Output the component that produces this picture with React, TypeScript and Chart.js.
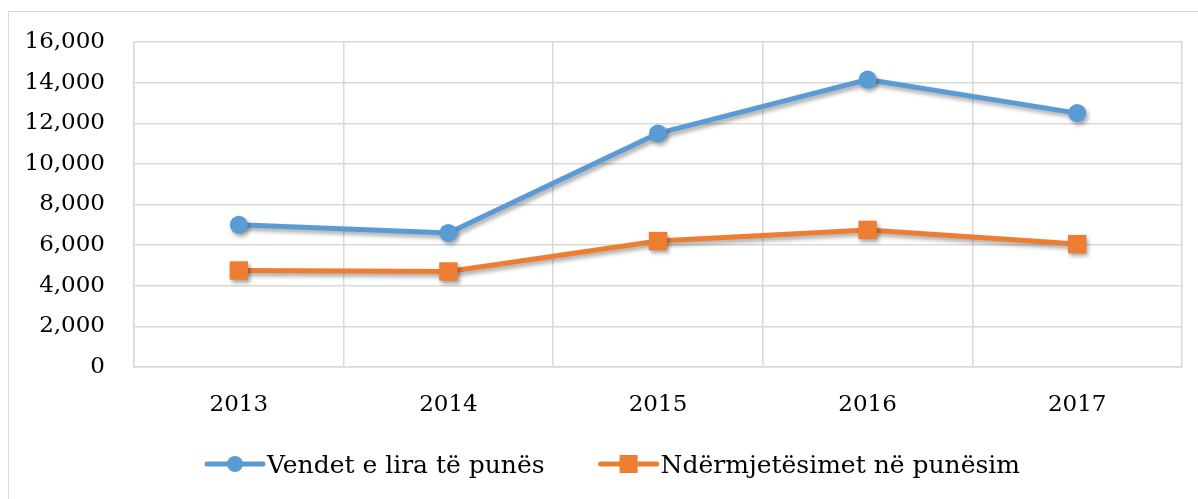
import React, { useEffect, useRef } from "react";
import { Chart, registerables } from "chart.js";

Chart.register(...registerables);

const years = ["2013", "2014", "2015", "2016", "2017"];
const vendetLira = [7000, 6600, 11500, 14150, 12500];
const ndermjetesimet = [4750, 4700, 6200, 6750, 6050];
const seriesLabels = ["Vendet e lira të punës", "Ndërmjetësimet në punësim"];
const yTicksMax = 16000;
const yTickStep = 2000;

const BLUE = "#5b9bd5";
const ORANGE = "#ed7d31";
const GRID = "#d9d9d9";
const FONT = "'DejaVu Serif', serif";

const shadowPlugin = {
  id: "shadowPlugin",
  beforeDatasetsDraw(chart: any) {
    const ctx = chart.ctx;
    ctx.save();
    ctx.shadowColor = "rgba(0,0,0,0.35)";
    ctx.shadowBlur = 4;
    ctx.shadowOffsetX = 2;
    ctx.shadowOffsetY = 3;
  },
  afterDatasetsDraw(chart: any) {
    chart.ctx.restore();
  },
};

const legendPlugin = {
  id: "customLegend",
  afterDraw(chart: any) {
    const ctx = chart.ctx;
    const datasets = chart.data.datasets;
    ctx.save();
    ctx.font = `25px ${FONT}`;
    const lineLen = 56;
    const textGap = 4;
    const itemGap = 56;
    const widths = datasets.map((d: any) => lineLen + textGap + ctx.measureText(d.label).width);
    const total = widths.reduce((a: number, b: number) => a + b, 0) + itemGap * (datasets.length - 1);
    let x = (chart.width - total) / 2 + 10;
    const yLine = 452;
    const yText = 461;
    datasets.forEach((d: any, i: number) => {
      ctx.strokeStyle = d.borderColor;
      ctx.lineWidth = 5;
      ctx.lineCap = "round";
      ctx.beginPath();
      ctx.moveTo(x, yLine);
      ctx.lineTo(x + lineLen, yLine);
      ctx.stroke();
      const cx = x + lineLen / 2;
      ctx.fillStyle = d.backgroundColor;
      if (d.pointStyle === "rect") {
        ctx.fillRect(cx - 9, yLine - 9, 18, 18);
      } else {
        ctx.beginPath();
        ctx.arc(cx, yLine, 8, 0, Math.PI * 2);
        ctx.fill();
      }
      ctx.fillStyle = "#000";
      ctx.textBaseline = "alphabetic";
      ctx.textAlign = "left";
      ctx.fillText(d.label, x + lineLen + textGap, yText);
      x += widths[i] + itemGap;
    });
    ctx.restore();
  },
};

export default function App() {
  const canvasRef = useRef<HTMLCanvasElement | null>(null);

  useEffect(() => {
    document.body.style.overflow = "hidden";
    const canvas = canvasRef.current;
    if (!canvas) return;
    const chart = new Chart(canvas, {
      type: "line",
      data: {
        labels: years,
        datasets: [
          {
            label: seriesLabels[0],
            data: vendetLira,
            borderColor: BLUE,
            backgroundColor: BLUE,
            borderWidth: 5,
            pointStyle: "circle",
            pointRadius: 9,
            pointHoverRadius: 9,
            pointBorderWidth: 0,
            tension: 0,
          },
          {
            label: seriesLabels[1],
            data: ndermjetesimet,
            borderColor: ORANGE,
            backgroundColor: ORANGE,
            borderWidth: 5,
            pointStyle: "rect",
            pointRadius: 13,
            pointHoverRadius: 13,
            pointBorderWidth: 0,
            tension: 0,
          },
        ],
      },
      options: {
        animation: false,
        responsive: false,
        maintainAspectRatio: false,
        layout: { padding: { top: 30, right: 16, bottom: 72, left: 0 } },
        plugins: {
          legend: { display: false },
          tooltip: { enabled: false },
        },
        scales: {
          x: {
            offset: true,
            grid: { offset: true, color: GRID, lineWidth: 1.5, drawTicks: false },
            border: { color: GRID, width: 1.5 },
            ticks: { color: "#000", font: { family: FONT, size: 23 }, padding: 24 },
            afterFit(scale: any) {
              scale.height = 60;
            },
          },
          y: {
            min: 0,
            max: yTicksMax,
            grid: { color: GRID, lineWidth: 1.5, drawTicks: false },
            border: { color: GRID, width: 1.5 },
            ticks: {
              stepSize: yTickStep,
              color: "#000",
              font: { family: FONT, size: 23 },
              padding: 29,
              callback: (v: any) => Number(v).toLocaleString("en-US"),
            },
            afterFit(scale: any) {
              scale.width = 125;
              scale.paddingTop = 0;
              scale.paddingBottom = 0;
            },
          },
        },
      },
      plugins: [shadowPlugin, legendPlugin],
    });
    return () => chart.destroy();
  }, []);

  return (
    <div
      style={{
        position: "fixed",
        left: 8,
        top: 11,
        width: 1190,
        height: 488,
        borderLeft: `1px solid ${GRID}`,
        borderTop: `1px solid ${GRID}`,
        background: "#fff",
      }}
    >
      <canvas ref={canvasRef} width={1189} height={487} style={{ display: "block", width: 1189, height: 487 }} />
    </div>
  );
}
